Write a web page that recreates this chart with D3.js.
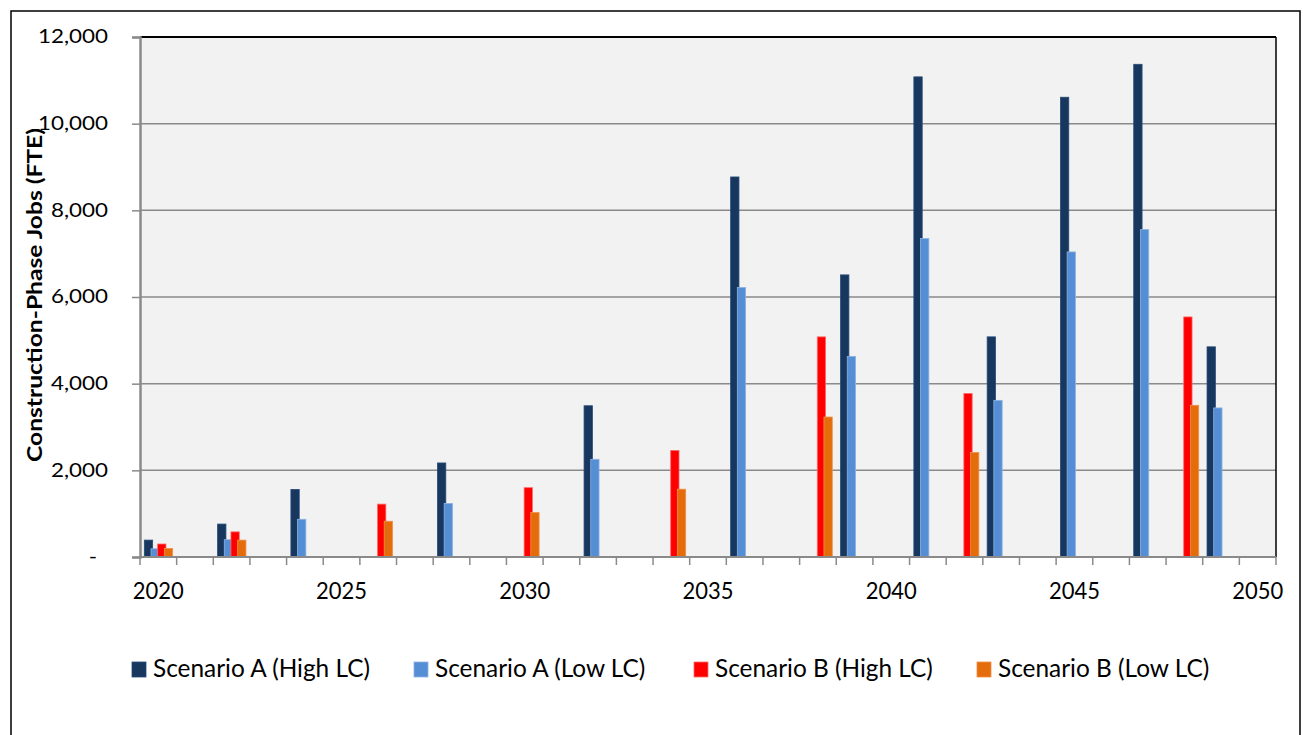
<!DOCTYPE html>
<html>
<head>
<meta charset="utf-8">
<script src="https://cdn.jsdelivr.net/npm/d3@7"></script>
<style>
  html, body { margin: 0; padding: 0; background: #fff; }
  svg { display: block; }
  text { font-family: Lato, "Open Sans", sans-serif; fill: #000; }
</style>
</head>
<body>
<svg id="chart" width="1303" height="735"></svg>
<script>
// ---- data ----
const years = d3.range(2020, 2051);
const tickLabels = ["2020", "2025", "2030", "2035", "2040", "2045", "2050"];
const yTicks = [0, 2000, 4000, 6000, 8000, 10000, 12000];
const seriesNames = ["Scenario A (High LC)", "Scenario A (Low LC)", "Scenario B (High LC)", "Scenario B (Low LC)"];
const seriesColors = ["#17375e", "#558ed5", "#ff0000", "#e46c0a"];
const seriesStroke = ["#254a78", "#8db3e2", "#ff6a6a", "#f0904a"];
// values keyed by year (missing = no bar)
const scenarioAHigh = {2020: 390, 2022: 760, 2024: 1560, 2028: 2170, 2032: 3490, 2036: 8770, 2039: 6510, 2041: 11080, 2043: 5080, 2045: 10610, 2047: 11370, 2049: 4850};
const scenarioALow  = {2020: 190, 2022: 400, 2024: 870, 2028: 1235, 2032: 2255, 2036: 6220, 2039: 4630, 2041: 7350, 2043: 3615, 2045: 7040, 2047: 7555, 2049: 3440};
const scenarioBHigh = {2020: 300, 2022: 580, 2026: 1220, 2030: 1600, 2034: 2460, 2038: 5080, 2042: 3775, 2048: 5540};
const scenarioBLow  = {2020: 195, 2022: 390, 2026: 825, 2030: 1025, 2034: 1565, 2038: 3230, 2042: 2410, 2048: 3500};
const seriesValues = [scenarioAHigh, scenarioALow, scenarioBHigh, scenarioBLow];

// ---- layout ----
const svg = d3.select("#chart");
const L = 140, R = 1276, T = 37, B = 557;

// stretch a text selection horizontally by factor k (matching the reference's wide type)
function stretch(sel, k) {
  sel.each(function () {
    const w = this.getComputedTextLength();
    d3.select(this).attr("textLength", w * k).attr("lengthAdjust", "spacingAndGlyphs");
  });
}

svg.append("rect").attr("x", 11).attr("y", 11).attr("width", 1289).attr("height", 740)
  .attr("fill", "#fff").attr("stroke", "#000").attr("stroke-width", 1.5);

const x = d3.scaleBand().domain(years).range([L, R]).paddingInner(0).paddingOuter(0);
const y = d3.scaleLinear().domain([0, 12000]).range([B, T]);

// plot background
svg.append("rect").attr("x", L).attr("y", T).attr("width", R - L).attr("height", B - T).attr("fill", "#f2f2f2");

// gridlines
svg.append("g").selectAll("line").data(yTicks.filter(d => d > 0 && d < 12000)).join("line")
  .attr("x1", L).attr("x2", R).attr("y1", d => y(d)).attr("y2", d => y(d))
  .attr("stroke", "#8a8a8a").attr("stroke-width", 1.5);

// bars
const bw = x.bandwidth();
const barW = bw * 0.227;
const step = bw * 0.182;
const off0 = bw * 0.118;
seriesValues.forEach((vals, i) => {
  const data = years.filter(yr => vals[yr] !== undefined).map(yr => ({yr, v: vals[yr]}));
  svg.append("g").selectAll("rect").data(data).join("rect")
    .attr("x", d => x(d.yr) + off0 + i * step)
    .attr("y", d => y(d.v))
    .attr("width", barW)
    .attr("height", d => y(0) - y(d.v))
    .attr("fill", seriesColors[i])
    .attr("stroke", seriesStroke[i]).attr("stroke-width", 0.8);
});

// top and right border
svg.append("line").attr("x1", L).attr("x2", R).attr("y1", T).attr("y2", T).attr("stroke", "#000").attr("stroke-width", 2);
svg.append("line").attr("x1", R).attr("x2", R).attr("y1", T).attr("y2", B).attr("stroke", "#000").attr("stroke-width", 1.5);

// y axis
const yAxis = d3.axisLeft(y).tickValues(yTicks).tickSize(8).tickPadding(24)
  .tickFormat(d => d === 0 ? "-" : d3.format(",")(d));
const gy = svg.append("g").attr("transform", `translate(${L},0)`).call(yAxis);
gy.select(".domain").attr("stroke", "#8a8a8a").attr("stroke-width", 2.5);
gy.selectAll(".tick line").attr("stroke", "#8a8a8a").attr("stroke-width", 1.5);
const yLabels = gy.selectAll(".tick text").style("font-size", "18.5px").style("font-family", "Lato, sans-serif").attr("fill", "#000");
yLabels.filter(d => d === 0).attr("dx", -11);
{
  const ref = yLabels.filter(d => d === 12000).node().getComputedTextLength();
  stretch(yLabels, 70 / ref);
}

// x axis (category boundaries as ticks)
const xAxisG = svg.append("g");
xAxisG.append("line").attr("x1", L).attr("x2", R).attr("y1", B).attr("y2", B).attr("stroke", "#8a8a8a").attr("stroke-width", 2);
const bounds = years.map(yr => x(yr)).concat([R]);
xAxisG.selectAll("line.t").data(bounds).join("line").attr("class", "t")
  .attr("x1", d => d).attr("x2", d => d).attr("y1", B).attr("y2", B + 8)
  .attr("stroke", "#8a8a8a").attr("stroke-width", 1.5);
const xLabels = xAxisG.selectAll("text").data(tickLabels).join("text")
  .attr("x", d => x(+d) + bw / 2).attr("y", 599)
  .attr("text-anchor", "middle").style("font-size", "22.3px").text(d => d);
{
  const ref = xLabels.node().getComputedTextLength();
  stretch(xLabels, 51 / ref);
}

// y title
const title = svg.append("text").attr("transform", `translate(42,${(128 + 462) / 2}) rotate(-90)`)
  .attr("text-anchor", "middle").style("font-size", "20.5px").style("font-weight", "bold")
  .text("Construction-Phase Jobs (FTE)");
stretch(title, 334 / title.node().getComputedTextLength());

// legend
const legX = [132, 414, 694, 977];
const leg = svg.append("g").selectAll("g").data(seriesNames).join("g")
  .attr("transform", (d, i) => `translate(${legX[i]},662)`);
leg.append("rect").attr("width", 14).attr("height", 15)
  .attr("fill", (d, i) => seriesColors[i]).attr("stroke", (d, i) => seriesStroke[i]).attr("stroke-width", 0.8);
const legText = leg.append("text").attr("x", 21).attr("y", 15).style("font-size", "25px").text(d => d);
stretch(legText, 217 / legText.node().getComputedTextLength());
</script>
</body>
</html>
